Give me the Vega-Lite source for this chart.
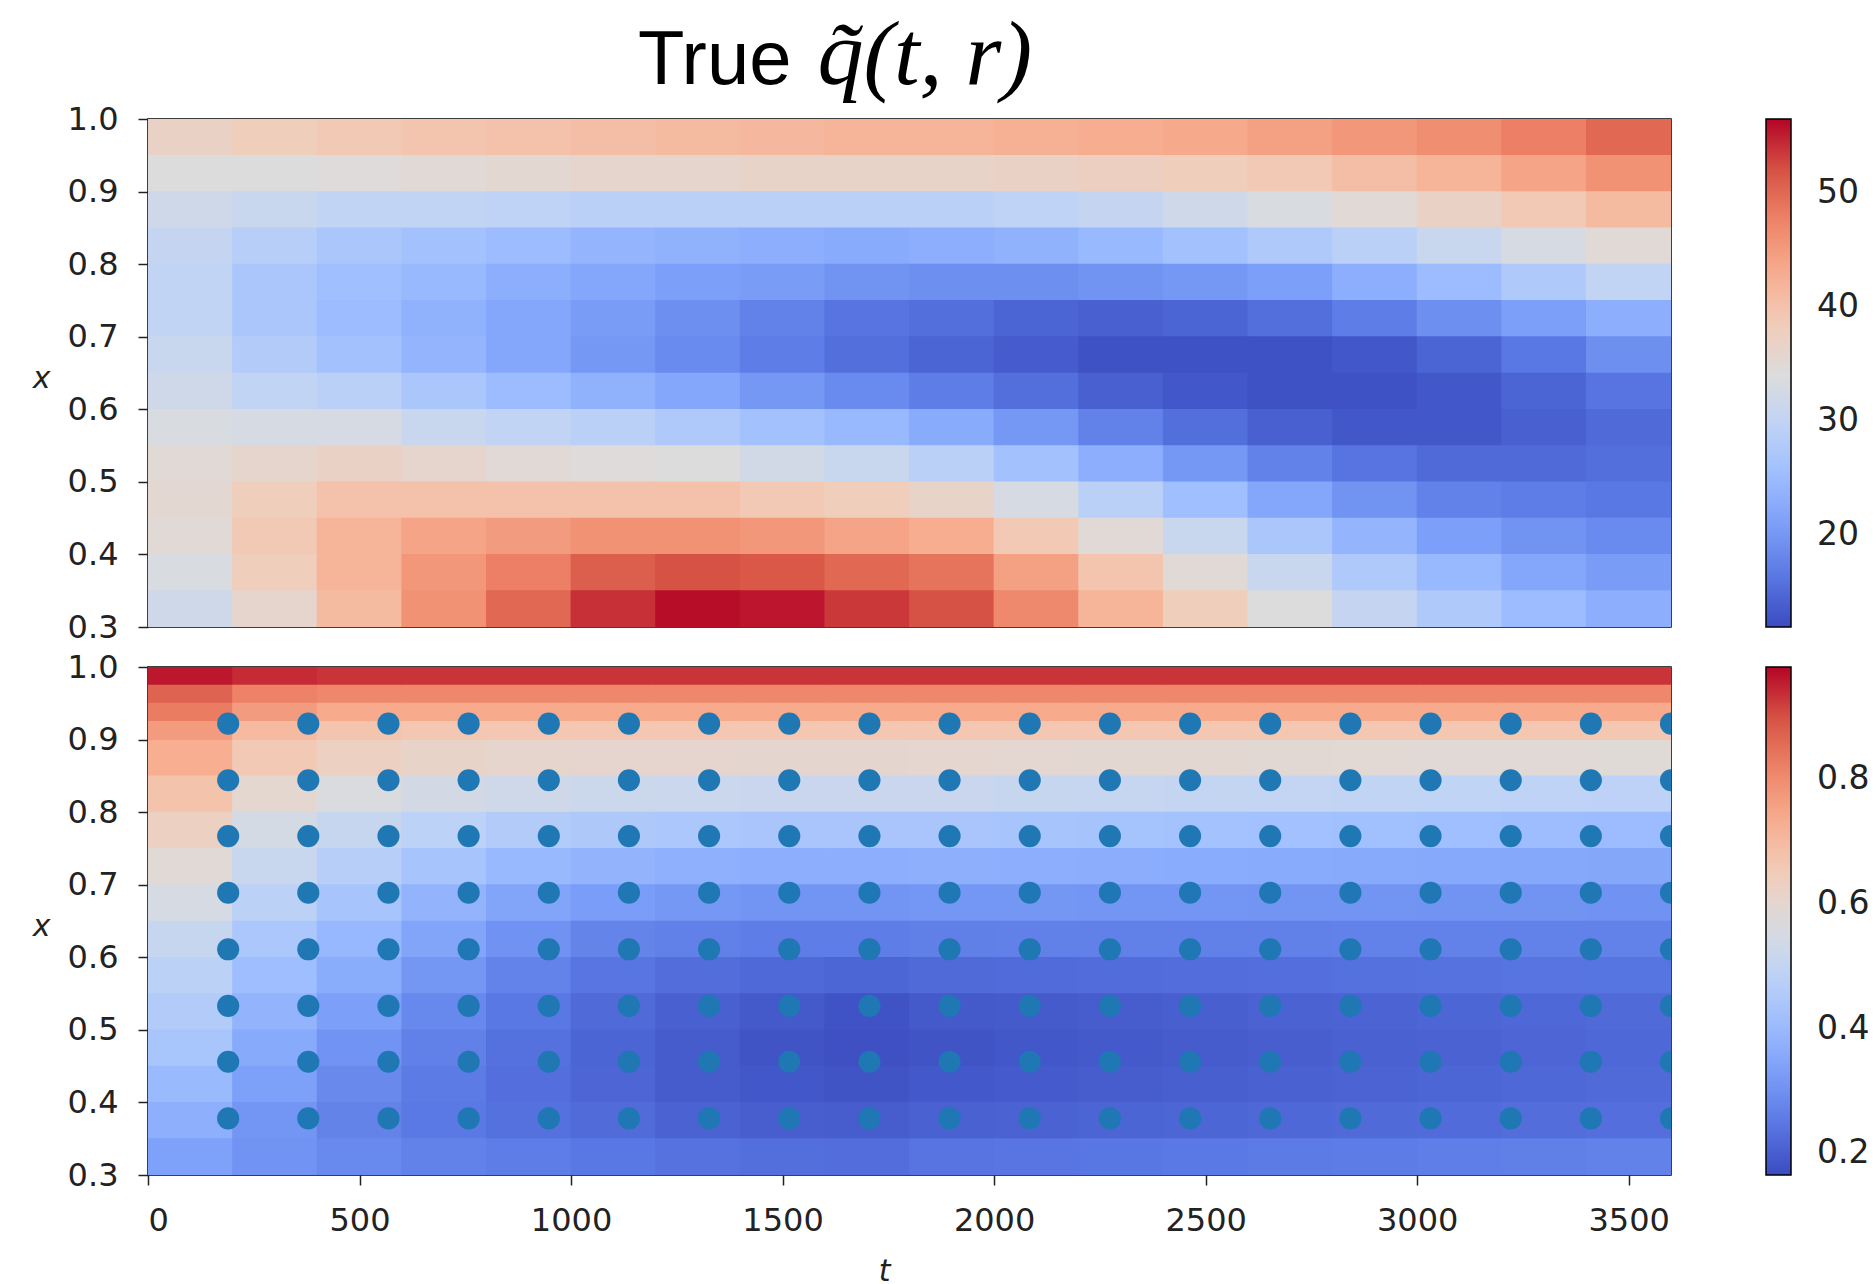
{
"$schema": "https://vega.github.io/schema/vega-lite/v6.json",
"background": "white",
"padding": {"left": 31, "top": 10, "right": 0, "bottom": 0},
"title": {"text": "True", "subtitle": "\u200b\u00a0\u00a0\u00a0\u00a0\u00a0\u00a0\u00a0\u2009q\u0303(t, r)", "font": "Liberation Sans", "fontSize": 76, "fontWeight": "normal", "color": "black", "subtitleFont": "Liberation Serif", "subtitleFontStyle": "italic", "subtitleFontSize": 92, "subtitleColor": "black", "subtitlePadding": -89, "anchor": "start", "frame": "group", "dx": 490, "offset": -14},
"datasets": {
"top": [
{"t":100,"x":0.975,"q":37},{"t":300,"x":0.975,"q":38},{"t":500,"x":0.975,"q":39},{"t":700,"x":0.975,"q":39.5},{"t":900,"x":0.975,"q":40},{"t":1100,"x":0.975,"q":40.5},{"t":1300,"x":0.975,"q":41},{"t":1500,"x":0.975,"q":41.5},{"t":1700,"x":0.975,"q":42},{"t":1900,"x":0.975,"q":42},{"t":2100,"x":0.975,"q":42.5},{"t":2300,"x":0.975,"q":43},{"t":2500,"x":0.975,"q":43.5},{"t":2700,"x":0.975,"q":44.5},{"t":2900,"x":0.975,"q":45.5},{"t":3100,"x":0.975,"q":46.5},{"t":3300,"x":0.975,"q":48},{"t":3500,"x":0.975,"q":50},
{"t":100,"x":0.925,"q":34},{"t":300,"x":0.925,"q":34},{"t":500,"x":0.925,"q":34.5},{"t":700,"x":0.925,"q":35},{"t":900,"x":0.925,"q":35.5},{"t":1100,"x":0.925,"q":36},{"t":1300,"x":0.925,"q":36},{"t":1500,"x":0.925,"q":36.5},{"t":1700,"x":0.925,"q":36.5},{"t":1900,"x":0.925,"q":36.5},{"t":2100,"x":0.925,"q":37},{"t":2300,"x":0.925,"q":37.5},{"t":2500,"x":0.925,"q":38},{"t":2700,"x":0.925,"q":39},{"t":2900,"x":0.925,"q":40.5},{"t":3100,"x":0.925,"q":42},{"t":3300,"x":0.925,"q":44},{"t":3500,"x":0.925,"q":46},
{"t":100,"x":0.875,"q":32},{"t":300,"x":0.875,"q":31},{"t":500,"x":0.875,"q":30},{"t":700,"x":0.875,"q":30},{"t":900,"x":0.875,"q":29.5},{"t":1100,"x":0.875,"q":29},{"t":1300,"x":0.875,"q":29},{"t":1500,"x":0.875,"q":29},{"t":1700,"x":0.875,"q":29},{"t":1900,"x":0.875,"q":29},{"t":2100,"x":0.875,"q":29.5},{"t":2300,"x":0.875,"q":30.5},{"t":2500,"x":0.875,"q":32},{"t":2700,"x":0.875,"q":33.5},{"t":2900,"x":0.875,"q":35},{"t":3100,"x":0.875,"q":37},{"t":3300,"x":0.875,"q":39},{"t":3500,"x":0.875,"q":41},
{"t":100,"x":0.825,"q":30.5},{"t":300,"x":0.825,"q":28.5},{"t":500,"x":0.825,"q":27},{"t":700,"x":0.825,"q":26},{"t":900,"x":0.825,"q":25},{"t":1100,"x":0.825,"q":24},{"t":1300,"x":0.825,"q":23.5},{"t":1500,"x":0.825,"q":23},{"t":1700,"x":0.825,"q":22.5},{"t":1900,"x":0.825,"q":23},{"t":2100,"x":0.825,"q":23.5},{"t":2300,"x":0.825,"q":24.5},{"t":2500,"x":0.825,"q":26},{"t":2700,"x":0.825,"q":27.5},{"t":2900,"x":0.825,"q":29},{"t":3100,"x":0.825,"q":31},{"t":3300,"x":0.825,"q":33},{"t":3500,"x":0.825,"q":35},
{"t":100,"x":0.775,"q":30},{"t":300,"x":0.775,"q":27},{"t":500,"x":0.775,"q":25.5},{"t":700,"x":0.775,"q":24.5},{"t":900,"x":0.775,"q":23},{"t":1100,"x":0.775,"q":22},{"t":1300,"x":0.775,"q":21},{"t":1500,"x":0.775,"q":20.5},{"t":1700,"x":0.775,"q":19.5},{"t":1900,"x":0.775,"q":19},{"t":2100,"x":0.775,"q":19},{"t":2300,"x":0.775,"q":19.5},{"t":2500,"x":0.775,"q":20},{"t":2700,"x":0.775,"q":21},{"t":2900,"x":0.775,"q":23},{"t":3100,"x":0.775,"q":25},{"t":3300,"x":0.775,"q":27.5},{"t":3500,"x":0.775,"q":30},
{"t":100,"x":0.725,"q":30},{"t":300,"x":0.725,"q":27},{"t":500,"x":0.725,"q":25},{"t":700,"x":0.725,"q":23.5},{"t":900,"x":0.725,"q":22},{"t":1100,"x":0.725,"q":20.5},{"t":1300,"x":0.725,"q":19},{"t":1500,"x":0.725,"q":17.5},{"t":1700,"x":0.725,"q":16},{"t":1900,"x":0.725,"q":15.5},{"t":2100,"x":0.725,"q":14.5},{"t":2300,"x":0.725,"q":14},{"t":2500,"x":0.725,"q":14.5},{"t":2700,"x":0.725,"q":15.5},{"t":2900,"x":0.725,"q":17},{"t":3100,"x":0.725,"q":19},{"t":3300,"x":0.725,"q":21},{"t":3500,"x":0.725,"q":23},
{"t":100,"x":0.675,"q":31},{"t":300,"x":0.675,"q":28},{"t":500,"x":0.675,"q":26},{"t":700,"x":0.675,"q":24},{"t":900,"x":0.675,"q":22},{"t":1100,"x":0.675,"q":20},{"t":1300,"x":0.675,"q":18.5},{"t":1500,"x":0.675,"q":17},{"t":1700,"x":0.675,"q":15.5},{"t":1900,"x":0.675,"q":14.5},{"t":2100,"x":0.675,"q":13.5},{"t":2300,"x":0.675,"q":12.5},{"t":2500,"x":0.675,"q":12.5},{"t":2700,"x":0.675,"q":12.5},{"t":2900,"x":0.675,"q":13},{"t":3100,"x":0.675,"q":14.5},{"t":3300,"x":0.675,"q":16.5},{"t":3500,"x":0.675,"q":19},
{"t":100,"x":0.625,"q":32},{"t":300,"x":0.625,"q":30},{"t":500,"x":0.625,"q":29},{"t":700,"x":0.625,"q":27},{"t":900,"x":0.625,"q":25},{"t":1100,"x":0.625,"q":23.5},{"t":1300,"x":0.625,"q":22},{"t":1500,"x":0.625,"q":20},{"t":1700,"x":0.625,"q":18.5},{"t":1900,"x":0.625,"q":17},{"t":2100,"x":0.625,"q":15.5},{"t":2300,"x":0.625,"q":14},{"t":2500,"x":0.625,"q":13},{"t":2700,"x":0.625,"q":12.5},{"t":2900,"x":0.625,"q":12.5},{"t":3100,"x":0.625,"q":13},{"t":3300,"x":0.625,"q":14.5},{"t":3500,"x":0.625,"q":16},
{"t":100,"x":0.575,"q":33.5},{"t":300,"x":0.575,"q":33},{"t":500,"x":0.575,"q":33},{"t":700,"x":0.575,"q":31},{"t":900,"x":0.575,"q":30},{"t":1100,"x":0.575,"q":29},{"t":1300,"x":0.575,"q":27.5},{"t":1500,"x":0.575,"q":26},{"t":1700,"x":0.575,"q":24.5},{"t":1900,"x":0.575,"q":22.5},{"t":2100,"x":0.575,"q":20},{"t":2300,"x":0.575,"q":17.5},{"t":2500,"x":0.575,"q":15.5},{"t":2700,"x":0.575,"q":14},{"t":2900,"x":0.575,"q":13},{"t":3100,"x":0.575,"q":13},{"t":3300,"x":0.575,"q":14},{"t":3500,"x":0.575,"q":15},
{"t":100,"x":0.525,"q":35},{"t":300,"x":0.525,"q":36},{"t":500,"x":0.525,"q":37},{"t":700,"x":0.525,"q":36},{"t":900,"x":0.525,"q":35},{"t":1100,"x":0.525,"q":34.5},{"t":1300,"x":0.525,"q":34},{"t":1500,"x":0.525,"q":32.5},{"t":1700,"x":0.525,"q":31},{"t":1900,"x":0.525,"q":29},{"t":2100,"x":0.525,"q":26},{"t":2300,"x":0.525,"q":23},{"t":2500,"x":0.525,"q":20},{"t":2700,"x":0.525,"q":17.5},{"t":2900,"x":0.525,"q":16},{"t":3100,"x":0.525,"q":15},{"t":3300,"x":0.525,"q":15},{"t":3500,"x":0.525,"q":15.5},
{"t":100,"x":0.475,"q":35.5},{"t":300,"x":0.475,"q":38},{"t":500,"x":0.475,"q":40},{"t":700,"x":0.475,"q":40},{"t":900,"x":0.475,"q":40},{"t":1100,"x":0.475,"q":40},{"t":1300,"x":0.475,"q":40},{"t":1500,"x":0.475,"q":39},{"t":1700,"x":0.475,"q":38},{"t":1900,"x":0.475,"q":36.5},{"t":2100,"x":0.475,"q":33},{"t":2300,"x":0.475,"q":29},{"t":2500,"x":0.475,"q":25.5},{"t":2700,"x":0.475,"q":22},{"t":2900,"x":0.475,"q":19.5},{"t":3100,"x":0.475,"q":17.5},{"t":3300,"x":0.475,"q":17},{"t":3500,"x":0.475,"q":16.5},
{"t":100,"x":0.425,"q":35},{"t":300,"x":0.425,"q":39},{"t":500,"x":0.425,"q":42},{"t":700,"x":0.425,"q":44},{"t":900,"x":0.425,"q":45},{"t":1100,"x":0.425,"q":46},{"t":1300,"x":0.425,"q":46},{"t":1500,"x":0.425,"q":45.5},{"t":1700,"x":0.425,"q":44},{"t":1900,"x":0.425,"q":43},{"t":2100,"x":0.425,"q":39},{"t":2300,"x":0.425,"q":35},{"t":2500,"x":0.425,"q":31},{"t":2700,"x":0.425,"q":27},{"t":2900,"x":0.425,"q":24},{"t":3100,"x":0.425,"q":21},{"t":3300,"x":0.425,"q":19.5},{"t":3500,"x":0.425,"q":18.5},
{"t":100,"x":0.375,"q":33.5},{"t":300,"x":0.375,"q":38},{"t":500,"x":0.375,"q":42},{"t":700,"x":0.375,"q":45.5},{"t":900,"x":0.375,"q":48},{"t":1100,"x":0.375,"q":51},{"t":1300,"x":0.375,"q":52},{"t":1500,"x":0.375,"q":51.5},{"t":1700,"x":0.375,"q":50},{"t":1900,"x":0.375,"q":49},{"t":2100,"x":0.375,"q":44.5},{"t":2300,"x":0.375,"q":39.5},{"t":2500,"x":0.375,"q":35},{"t":2700,"x":0.375,"q":31},{"t":2900,"x":0.375,"q":27.5},{"t":3100,"x":0.375,"q":24.5},{"t":3300,"x":0.375,"q":22},{"t":3500,"x":0.375,"q":20.5},
{"t":100,"x":0.325,"q":32},{"t":300,"x":0.325,"q":36},{"t":500,"x":0.325,"q":41},{"t":700,"x":0.325,"q":46},{"t":900,"x":0.325,"q":50},{"t":1100,"x":0.325,"q":54},{"t":1300,"x":0.325,"q":56},{"t":1500,"x":0.325,"q":55.5},{"t":1700,"x":0.325,"q":53.5},{"t":1900,"x":0.325,"q":52},{"t":2100,"x":0.325,"q":47},{"t":2300,"x":0.325,"q":42},{"t":2500,"x":0.325,"q":38},{"t":2700,"x":0.325,"q":34},{"t":2900,"x":0.325,"q":30.5},{"t":3100,"x":0.325,"q":27.5},{"t":3300,"x":0.325,"q":25},{"t":3500,"x":0.325,"q":23}
],
"botHi": [
{"t":100,"x":0.9875,"q":0.96},{"t":100,"x":0.9625,"q":0.87},{"t":100,"x":0.9375,"q":0.83},{"t":100,"x":0.9125,"q":0.77},
{"t":300,"x":0.9875,"q":0.94},{"t":300,"x":0.9625,"q":0.82},{"t":300,"x":0.9375,"q":0.77},{"t":300,"x":0.9125,"q":0.7},
{"t":500,"x":0.9875,"q":0.93},{"t":500,"x":0.9625,"q":0.81},{"t":500,"x":0.9375,"q":0.74},{"t":500,"x":0.9125,"q":0.67},
{"t":700,"x":0.9875,"q":0.93},{"t":700,"x":0.9625,"q":0.81},{"t":700,"x":0.9375,"q":0.74},{"t":700,"x":0.9125,"q":0.665},
{"t":900,"x":0.9875,"q":0.93},{"t":900,"x":0.9625,"q":0.81},{"t":900,"x":0.9375,"q":0.74},{"t":900,"x":0.9125,"q":0.665},
{"t":1100,"x":0.9875,"q":0.93},{"t":1100,"x":0.9625,"q":0.81},{"t":1100,"x":0.9375,"q":0.74},{"t":1100,"x":0.9125,"q":0.665},
{"t":1300,"x":0.9875,"q":0.93},{"t":1300,"x":0.9625,"q":0.81},{"t":1300,"x":0.9375,"q":0.74},{"t":1300,"x":0.9125,"q":0.665},
{"t":1500,"x":0.9875,"q":0.93},{"t":1500,"x":0.9625,"q":0.81},{"t":1500,"x":0.9375,"q":0.74},{"t":1500,"x":0.9125,"q":0.665},
{"t":1700,"x":0.9875,"q":0.93},{"t":1700,"x":0.9625,"q":0.81},{"t":1700,"x":0.9375,"q":0.74},{"t":1700,"x":0.9125,"q":0.665},
{"t":1900,"x":0.9875,"q":0.93},{"t":1900,"x":0.9625,"q":0.81},{"t":1900,"x":0.9375,"q":0.74},{"t":1900,"x":0.9125,"q":0.665},
{"t":2100,"x":0.9875,"q":0.93},{"t":2100,"x":0.9625,"q":0.81},{"t":2100,"x":0.9375,"q":0.74},{"t":2100,"x":0.9125,"q":0.665},
{"t":2300,"x":0.9875,"q":0.93},{"t":2300,"x":0.9625,"q":0.81},{"t":2300,"x":0.9375,"q":0.74},{"t":2300,"x":0.9125,"q":0.665},
{"t":2500,"x":0.9875,"q":0.93},{"t":2500,"x":0.9625,"q":0.81},{"t":2500,"x":0.9375,"q":0.74},{"t":2500,"x":0.9125,"q":0.665},
{"t":2700,"x":0.9875,"q":0.93},{"t":2700,"x":0.9625,"q":0.81},{"t":2700,"x":0.9375,"q":0.74},{"t":2700,"x":0.9125,"q":0.665},
{"t":2900,"x":0.9875,"q":0.93},{"t":2900,"x":0.9625,"q":0.81},{"t":2900,"x":0.9375,"q":0.74},{"t":2900,"x":0.9125,"q":0.665},
{"t":3100,"x":0.9875,"q":0.93},{"t":3100,"x":0.9625,"q":0.81},{"t":3100,"x":0.9375,"q":0.74},{"t":3100,"x":0.9125,"q":0.665},
{"t":3300,"x":0.9875,"q":0.93},{"t":3300,"x":0.9625,"q":0.81},{"t":3300,"x":0.9375,"q":0.74},{"t":3300,"x":0.9125,"q":0.665},
{"t":3500,"x":0.9875,"q":0.93},{"t":3500,"x":0.9625,"q":0.81},{"t":3500,"x":0.9375,"q":0.74},{"t":3500,"x":0.9125,"q":0.665}
],
"bot": [
{"t":100,"x":0.875,"q":0.73},{"t":100,"x":0.825,"q":0.675},{"t":100,"x":0.775,"q":0.63},{"t":100,"x":0.725,"q":0.585},{"t":100,"x":0.675,"q":0.55},{"t":100,"x":0.625,"q":0.51},{"t":100,"x":0.575,"q":0.48},{"t":100,"x":0.525,"q":0.458},{"t":100,"x":0.475,"q":0.434},{"t":100,"x":0.425,"q":0.4},{"t":100,"x":0.375,"q":0.37},{"t":100,"x":0.325,"q":0.335},
{"t":300,"x":0.875,"q":0.66},{"t":300,"x":0.825,"q":0.598},{"t":300,"x":0.775,"q":0.548},{"t":300,"x":0.725,"q":0.513},{"t":300,"x":0.675,"q":0.479},{"t":300,"x":0.625,"q":0.441},{"t":300,"x":0.575,"q":0.41},{"t":300,"x":0.525,"q":0.383},{"t":300,"x":0.475,"q":0.356},{"t":300,"x":0.425,"q":0.332},{"t":300,"x":0.375,"q":0.309},{"t":300,"x":0.325,"q":0.304},
{"t":500,"x":0.875,"q":0.629},{"t":500,"x":0.825,"q":0.564},{"t":500,"x":0.775,"q":0.509},{"t":500,"x":0.725,"q":0.47},{"t":500,"x":0.675,"q":0.432},{"t":500,"x":0.625,"q":0.394},{"t":500,"x":0.575,"q":0.361},{"t":500,"x":0.525,"q":0.33},{"t":500,"x":0.475,"q":0.304},{"t":500,"x":0.425,"q":0.284},{"t":500,"x":0.375,"q":0.27},{"t":500,"x":0.325,"q":0.283},
{"t":700,"x":0.875,"q":0.615},{"t":700,"x":0.825,"q":0.545},{"t":700,"x":0.775,"q":0.482},{"t":700,"x":0.725,"q":0.43},{"t":700,"x":0.675,"q":0.383},{"t":700,"x":0.625,"q":0.345},{"t":700,"x":0.575,"q":0.311},{"t":700,"x":0.525,"q":0.281},{"t":700,"x":0.475,"q":0.265},{"t":700,"x":0.425,"q":0.255},{"t":700,"x":0.375,"q":0.251},{"t":700,"x":0.325,"q":0.269},
{"t":900,"x":0.875,"q":0.608},{"t":900,"x":0.825,"q":0.53},{"t":900,"x":0.775,"q":0.457},{"t":900,"x":0.725,"q":0.397},{"t":900,"x":0.675,"q":0.344},{"t":900,"x":0.625,"q":0.301},{"t":900,"x":0.575,"q":0.271},{"t":900,"x":0.525,"q":0.249},{"t":900,"x":0.475,"q":0.236},{"t":900,"x":0.425,"q":0.232},{"t":900,"x":0.375,"q":0.235},{"t":900,"x":0.325,"q":0.258},
{"t":1100,"x":0.875,"q":0.604},{"t":1100,"x":0.825,"q":0.523},{"t":1100,"x":0.775,"q":0.448},{"t":1100,"x":0.725,"q":0.383},{"t":1100,"x":0.675,"q":0.324},{"t":1100,"x":0.625,"q":0.273},{"t":1100,"x":0.575,"q":0.243},{"t":1100,"x":0.525,"q":0.222},{"t":1100,"x":0.475,"q":0.212},{"t":1100,"x":0.425,"q":0.213},{"t":1100,"x":0.375,"q":0.224},{"t":1100,"x":0.325,"q":0.249},
{"t":1300,"x":0.875,"q":0.604},{"t":1300,"x":0.825,"q":0.521},{"t":1300,"x":0.775,"q":0.443},{"t":1300,"x":0.725,"q":0.374},{"t":1300,"x":0.675,"q":0.313},{"t":1300,"x":0.625,"q":0.265},{"t":1300,"x":0.575,"q":0.229},{"t":1300,"x":0.525,"q":0.202},{"t":1300,"x":0.475,"q":0.194},{"t":1300,"x":0.425,"q":0.196},{"t":1300,"x":0.375,"q":0.206},{"t":1300,"x":0.325,"q":0.237},
{"t":1500,"x":0.875,"q":0.601},{"t":1500,"x":0.825,"q":0.516},{"t":1500,"x":0.775,"q":0.437},{"t":1500,"x":0.725,"q":0.368},{"t":1500,"x":0.675,"q":0.307},{"t":1500,"x":0.625,"q":0.259},{"t":1500,"x":0.575,"q":0.22},{"t":1500,"x":0.525,"q":0.189},{"t":1500,"x":0.475,"q":0.18},{"t":1500,"x":0.425,"q":0.185},{"t":1500,"x":0.375,"q":0.2},{"t":1500,"x":0.325,"q":0.231},
{"t":1700,"x":0.875,"q":0.601},{"t":1700,"x":0.825,"q":0.516},{"t":1700,"x":0.775,"q":0.437},{"t":1700,"x":0.725,"q":0.368},{"t":1700,"x":0.675,"q":0.307},{"t":1700,"x":0.625,"q":0.259},{"t":1700,"x":0.575,"q":0.215},{"t":1700,"x":0.525,"q":0.179},{"t":1700,"x":0.475,"q":0.172},{"t":1700,"x":0.425,"q":0.18},{"t":1700,"x":0.375,"q":0.197},{"t":1700,"x":0.325,"q":0.23},
{"t":1900,"x":0.875,"q":0.602},{"t":1900,"x":0.825,"q":0.515},{"t":1900,"x":0.775,"q":0.435},{"t":1900,"x":0.725,"q":0.37},{"t":1900,"x":0.675,"q":0.312},{"t":1900,"x":0.625,"q":0.264},{"t":1900,"x":0.575,"q":0.222},{"t":1900,"x":0.525,"q":0.189},{"t":1900,"x":0.475,"q":0.18},{"t":1900,"x":0.425,"q":0.188},{"t":1900,"x":0.375,"q":0.205},{"t":1900,"x":0.325,"q":0.24},
{"t":2100,"x":0.875,"q":0.6},{"t":2100,"x":0.825,"q":0.511},{"t":2100,"x":0.775,"q":0.431},{"t":2100,"x":0.725,"q":0.367},{"t":2100,"x":0.675,"q":0.311},{"t":2100,"x":0.625,"q":0.265},{"t":2100,"x":0.575,"q":0.225},{"t":2100,"x":0.525,"q":0.193},{"t":2100,"x":0.475,"q":0.185},{"t":2100,"x":0.425,"q":0.192},{"t":2100,"x":0.375,"q":0.208},{"t":2100,"x":0.325,"q":0.243},
{"t":2300,"x":0.875,"q":0.597},{"t":2300,"x":0.825,"q":0.507},{"t":2300,"x":0.775,"q":0.427},{"t":2300,"x":0.725,"q":0.365},{"t":2300,"x":0.675,"q":0.31},{"t":2300,"x":0.625,"q":0.265},{"t":2300,"x":0.575,"q":0.227},{"t":2300,"x":0.525,"q":0.197},{"t":2300,"x":0.475,"q":0.19},{"t":2300,"x":0.425,"q":0.197},{"t":2300,"x":0.375,"q":0.212},{"t":2300,"x":0.325,"q":0.247},
{"t":2500,"x":0.875,"q":0.595},{"t":2500,"x":0.825,"q":0.503},{"t":2500,"x":0.775,"q":0.423},{"t":2500,"x":0.725,"q":0.362},{"t":2500,"x":0.675,"q":0.308},{"t":2500,"x":0.625,"q":0.266},{"t":2500,"x":0.575,"q":0.23},{"t":2500,"x":0.525,"q":0.201},{"t":2500,"x":0.475,"q":0.194},{"t":2500,"x":0.425,"q":0.201},{"t":2500,"x":0.375,"q":0.215},{"t":2500,"x":0.325,"q":0.25},
{"t":2700,"x":0.875,"q":0.593},{"t":2700,"x":0.825,"q":0.499},{"t":2700,"x":0.775,"q":0.42},{"t":2700,"x":0.725,"q":0.359},{"t":2700,"x":0.675,"q":0.307},{"t":2700,"x":0.625,"q":0.266},{"t":2700,"x":0.575,"q":0.232},{"t":2700,"x":0.525,"q":0.206},{"t":2700,"x":0.475,"q":0.199},{"t":2700,"x":0.425,"q":0.205},{"t":2700,"x":0.375,"q":0.219},{"t":2700,"x":0.325,"q":0.254},
{"t":2900,"x":0.875,"q":0.59},{"t":2900,"x":0.825,"q":0.495},{"t":2900,"x":0.775,"q":0.416},{"t":2900,"x":0.725,"q":0.356},{"t":2900,"x":0.675,"q":0.306},{"t":2900,"x":0.625,"q":0.267},{"t":2900,"x":0.575,"q":0.235},{"t":2900,"x":0.525,"q":0.21},{"t":2900,"x":0.475,"q":0.204},{"t":2900,"x":0.425,"q":0.209},{"t":2900,"x":0.375,"q":0.222},{"t":2900,"x":0.325,"q":0.257},
{"t":3100,"x":0.875,"q":0.588},{"t":3100,"x":0.825,"q":0.491},{"t":3100,"x":0.775,"q":0.412},{"t":3100,"x":0.725,"q":0.354},{"t":3100,"x":0.675,"q":0.305},{"t":3100,"x":0.625,"q":0.267},{"t":3100,"x":0.575,"q":0.237},{"t":3100,"x":0.525,"q":0.214},{"t":3100,"x":0.475,"q":0.208},{"t":3100,"x":0.425,"q":0.214},{"t":3100,"x":0.375,"q":0.225},{"t":3100,"x":0.325,"q":0.26},
{"t":3300,"x":0.875,"q":0.585},{"t":3300,"x":0.825,"q":0.487},{"t":3300,"x":0.775,"q":0.408},{"t":3300,"x":0.725,"q":0.351},{"t":3300,"x":0.675,"q":0.303},{"t":3300,"x":0.625,"q":0.268},{"t":3300,"x":0.575,"q":0.24},{"t":3300,"x":0.525,"q":0.218},{"t":3300,"x":0.475,"q":0.213},{"t":3300,"x":0.425,"q":0.218},{"t":3300,"x":0.375,"q":0.229},{"t":3300,"x":0.325,"q":0.264},
{"t":3500,"x":0.875,"q":0.583},{"t":3500,"x":0.825,"q":0.483},{"t":3500,"x":0.775,"q":0.404},{"t":3500,"x":0.725,"q":0.348},{"t":3500,"x":0.675,"q":0.302},{"t":3500,"x":0.625,"q":0.268},{"t":3500,"x":0.575,"q":0.242},{"t":3500,"x":0.525,"q":0.222},{"t":3500,"x":0.475,"q":0.218},{"t":3500,"x":0.425,"q":0.222},{"t":3500,"x":0.375,"q":0.232},{"t":3500,"x":0.325,"q":0.267}
],
"pts": [
{"t":189.5,"x":0.378},{"t":189.5,"x":0.456},{"t":189.5,"x":0.533},{"t":189.5,"x":0.611},{"t":189.5,"x":0.689},{"t":189.5,"x":0.767},{"t":189.5,"x":0.844},{"t":189.5,"x":0.922},
{"t":378.9,"x":0.378},{"t":378.9,"x":0.456},{"t":378.9,"x":0.533},{"t":378.9,"x":0.611},{"t":378.9,"x":0.689},{"t":378.9,"x":0.767},{"t":378.9,"x":0.844},{"t":378.9,"x":0.922},
{"t":568.4,"x":0.378},{"t":568.4,"x":0.456},{"t":568.4,"x":0.533},{"t":568.4,"x":0.611},{"t":568.4,"x":0.689},{"t":568.4,"x":0.767},{"t":568.4,"x":0.844},{"t":568.4,"x":0.922},
{"t":757.9,"x":0.378},{"t":757.9,"x":0.456},{"t":757.9,"x":0.533},{"t":757.9,"x":0.611},{"t":757.9,"x":0.689},{"t":757.9,"x":0.767},{"t":757.9,"x":0.844},{"t":757.9,"x":0.922},
{"t":947.4,"x":0.378},{"t":947.4,"x":0.456},{"t":947.4,"x":0.533},{"t":947.4,"x":0.611},{"t":947.4,"x":0.689},{"t":947.4,"x":0.767},{"t":947.4,"x":0.844},{"t":947.4,"x":0.922},
{"t":1136.8,"x":0.378},{"t":1136.8,"x":0.456},{"t":1136.8,"x":0.533},{"t":1136.8,"x":0.611},{"t":1136.8,"x":0.689},{"t":1136.8,"x":0.767},{"t":1136.8,"x":0.844},{"t":1136.8,"x":0.922},
{"t":1326.3,"x":0.378},{"t":1326.3,"x":0.456},{"t":1326.3,"x":0.533},{"t":1326.3,"x":0.611},{"t":1326.3,"x":0.689},{"t":1326.3,"x":0.767},{"t":1326.3,"x":0.844},{"t":1326.3,"x":0.922},
{"t":1515.8,"x":0.378},{"t":1515.8,"x":0.456},{"t":1515.8,"x":0.533},{"t":1515.8,"x":0.611},{"t":1515.8,"x":0.689},{"t":1515.8,"x":0.767},{"t":1515.8,"x":0.844},{"t":1515.8,"x":0.922},
{"t":1705.3,"x":0.378},{"t":1705.3,"x":0.456},{"t":1705.3,"x":0.533},{"t":1705.3,"x":0.611},{"t":1705.3,"x":0.689},{"t":1705.3,"x":0.767},{"t":1705.3,"x":0.844},{"t":1705.3,"x":0.922},
{"t":1894.7,"x":0.378},{"t":1894.7,"x":0.456},{"t":1894.7,"x":0.533},{"t":1894.7,"x":0.611},{"t":1894.7,"x":0.689},{"t":1894.7,"x":0.767},{"t":1894.7,"x":0.844},{"t":1894.7,"x":0.922},
{"t":2084.2,"x":0.378},{"t":2084.2,"x":0.456},{"t":2084.2,"x":0.533},{"t":2084.2,"x":0.611},{"t":2084.2,"x":0.689},{"t":2084.2,"x":0.767},{"t":2084.2,"x":0.844},{"t":2084.2,"x":0.922},
{"t":2273.7,"x":0.378},{"t":2273.7,"x":0.456},{"t":2273.7,"x":0.533},{"t":2273.7,"x":0.611},{"t":2273.7,"x":0.689},{"t":2273.7,"x":0.767},{"t":2273.7,"x":0.844},{"t":2273.7,"x":0.922},
{"t":2463.2,"x":0.378},{"t":2463.2,"x":0.456},{"t":2463.2,"x":0.533},{"t":2463.2,"x":0.611},{"t":2463.2,"x":0.689},{"t":2463.2,"x":0.767},{"t":2463.2,"x":0.844},{"t":2463.2,"x":0.922},
{"t":2652.6,"x":0.378},{"t":2652.6,"x":0.456},{"t":2652.6,"x":0.533},{"t":2652.6,"x":0.611},{"t":2652.6,"x":0.689},{"t":2652.6,"x":0.767},{"t":2652.6,"x":0.844},{"t":2652.6,"x":0.922},
{"t":2842.1,"x":0.378},{"t":2842.1,"x":0.456},{"t":2842.1,"x":0.533},{"t":2842.1,"x":0.611},{"t":2842.1,"x":0.689},{"t":2842.1,"x":0.767},{"t":2842.1,"x":0.844},{"t":2842.1,"x":0.922},
{"t":3031.6,"x":0.378},{"t":3031.6,"x":0.456},{"t":3031.6,"x":0.533},{"t":3031.6,"x":0.611},{"t":3031.6,"x":0.689},{"t":3031.6,"x":0.767},{"t":3031.6,"x":0.844},{"t":3031.6,"x":0.922},
{"t":3221.1,"x":0.378},{"t":3221.1,"x":0.456},{"t":3221.1,"x":0.533},{"t":3221.1,"x":0.611},{"t":3221.1,"x":0.689},{"t":3221.1,"x":0.767},{"t":3221.1,"x":0.844},{"t":3221.1,"x":0.922},
{"t":3410.5,"x":0.378},{"t":3410.5,"x":0.456},{"t":3410.5,"x":0.533},{"t":3410.5,"x":0.611},{"t":3410.5,"x":0.689},{"t":3410.5,"x":0.767},{"t":3410.5,"x":0.844},{"t":3410.5,"x":0.922},
{"t":3600,"x":0.378},{"t":3600,"x":0.456},{"t":3600,"x":0.533},{"t":3600,"x":0.611},{"t":3600,"x":0.689},{"t":3600,"x":0.767},{"t":3600,"x":0.844},{"t":3600,"x":0.922}
]
},
"vconcat": [
{
"width": 1523, "height": 508,
"data": {"name": "top"},
"mark": {"type": "rect", "width": 85.5, "height": 37, "clip": true},
"encoding": {
"x": {"field": "t", "type": "quantitative", "scale": {"domain": [0, 3600], "nice": false, "zero": false}, "axis": null},
"y": {"field": "x", "type": "quantitative", "scale": {"domain": [0.3, 1.0], "nice": false, "zero": false}, "axis": {"values": [0.3,0.4,0.5,0.6,0.7,0.8,0.9,1.0], "format": ".1f", "title": "x", "titleAngle": 0, "titleX": -107, "titleY": 259, "titleAlign": "center", "titleBaseline": "middle"}},
"color": {"field": "q", "type": "quantitative", "scale": {"domain": [11.9, 56.5], "range": ["#3b4cc0","#5977e3","#7b9ff9","#9ebeff","#c0d4f5","#dddcdc","#f2cbb7","#f7ac8e","#ee8468","#d65244","#b40426"], "interpolate": "rgb"}, "legend": {"title": null, "values": [20,30,40,50], "labelOffset": 26, "offset": 95}}
}
},
{
"width": 1523, "height": 508,
"layer": [
{
"data": {"name": "bot"},
"mark": {"type": "rect", "width": 85.5, "height": 37, "clip": true},
"encoding": {
"x": {"field": "t", "type": "quantitative", "scale": {"domain": [0, 3600], "nice": false, "zero": false}, "axis": {"values": [0,500,1000,1500,2000,2500,3000,3500], "format": "d", "title": "t", "titleX": 736, "titleY": 96, "titleAlign": "center", "titleBaseline": "middle"}},
"y": {"field": "x", "type": "quantitative", "scale": {"domain": [0.3, 1.0], "nice": false, "zero": false}, "axis": {"values": [0.3,0.4,0.5,0.6,0.7,0.8,0.9,1.0], "format": ".1f", "title": "x", "titleAngle": 0, "titleX": -107, "titleY": 259, "titleAlign": "center", "titleBaseline": "middle"}},
"color": {"field": "q", "type": "quantitative", "scale": {"domain": [0.165, 0.98], "range": ["#3b4cc0","#5977e3","#7b9ff9","#9ebeff","#c0d4f5","#dddcdc","#f2cbb7","#f7ac8e","#ee8468","#d65244","#b40426"], "interpolate": "rgb"}, "legend": {"title": null, "values": [0.2,0.4,0.6,0.8], "format": ".1f", "labelOffset": 26, "offset": 95}}
}
},
{
"data": {"name": "botHi"},
"mark": {"type": "rect", "width": 85.5, "height": 19, "clip": true},
"encoding": {
"x": {"field": "t", "type": "quantitative"},
"y": {"field": "x", "type": "quantitative"},
"color": {"field": "q", "type": "quantitative"}
}
},
{
"data": {"name": "pts"},
"mark": {"type": "point", "filled": true, "size": 490, "color": "#1f77b4", "opacity": 1, "clip": true},
"encoding": {
"x": {"field": "t", "type": "quantitative"},
"y": {"field": "x", "type": "quantitative"}
}
}
]
}
],
"spacing": 6,
"resolve": {"scale": {"color": "independent"}, "legend": {"color": "independent"}},
"config": {
"view": {"stroke": "black", "strokeWidth": 1.5},
"axis": {"labelFont": "DejaVu Sans", "labelFontSize": 32, "labelColor": "#222222", "tickColor": "#222222", "tickSize": 10, "tickWidth": 1.5, "domain": false, "grid": false, "labelPadding": 20, "titleFont": "DejaVu Sans", "titleFontSize": 30, "titleFontStyle": "italic", "titleFontWeight": "normal", "titleColor": "#222222"},
"legend": {"orient": "right", "padding": 0, "gradientLength": 508, "gradientThickness": 25, "gradientStrokeColor": "black", "gradientStrokeWidth": 1.5, "labelFont": "DejaVu Sans", "labelFontSize": 33, "labelColor": "#222222", "labelOverlap": false}
}
}
